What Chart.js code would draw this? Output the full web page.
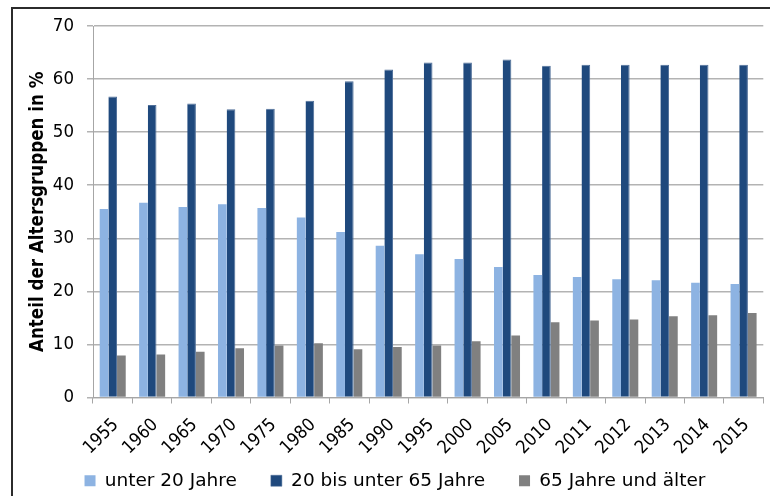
<!DOCTYPE html>
<html>
<head>
<meta charset="utf-8">
<script src="https://cdn.jsdelivr.net/npm/chart.js@4"></script>
<style>
	html, body { margin: 0; padding: 0; background: #fff; }
	#wrap { position: relative; width: 770px; height: 496px; }
	#frame { position: absolute; left: 11px; top: 7px; width: 780px; height: 520px; border-left: 2px solid #2b2b2b; border-top: 2px solid #2b2b2b; }
	canvas { position: absolute; left: 0; top: 0; }
</style>
</head>
<body>
<div id="wrap">
	<div id="frame"></div>
	<canvas id="chart" width="770" height="496"></canvas>
</div>
<script>
// --- data ---
var years = ["1955", "1960", "1965", "1970", "1975", "1980", "1985", "1990", "1995", "2000", "2005", "2010", "2011", "2012", "2013", "2014", "2015"];
var under20 = [35.5, 36.7, 35.9, 36.4, 35.7, 33.9, 31.2, 28.6, 27.0, 26.1, 24.6, 23.1, 22.7, 22.3, 22.1, 21.6, 21.4];
var from20to65 = [56.7, 55.1, 55.4, 54.3, 54.4, 55.9, 59.6, 61.8, 63.1, 63.1, 63.7, 62.5, 62.7, 62.7, 62.7, 62.7, 62.7];
var over65 = [7.9, 8.1, 8.6, 9.3, 9.8, 10.2, 9.1, 9.5, 9.8, 10.6, 11.7, 14.2, 14.5, 14.7, 15.3, 15.5, 15.9];
var seriesNames = ["unter 20 Jahre", "20 bis unter 65 Jahre", "65 Jahre und älter"];
var yTicks = [0, 10, 20, 30, 40, 50, 60, 70];

var condensed = "'DejaVu Sans Condensed', 'DejaVu Sans', sans-serif";
Chart.defaults.font.family = "'DejaVu Sans', sans-serif";
Chart.defaults.color = '#000';

var ctx = document.getElementById('chart').getContext('2d');

var chart = new Chart(ctx, {
	type: 'bar',
	data: {
		labels: years,
		datasets: [{
			label: seriesNames[0],
			data: under20,
			backgroundColor: '#8db3e2'
		}, {
			label: seriesNames[1],
			data: from20to65,
			backgroundColor: '#1f497d',
			borderColor: '#4f6f99',
			borderWidth: { left: 0, right: 1, top: 1, bottom: 0 }
		}, {
			label: seriesNames[2],
			data: over65,
			backgroundColor: '#808080'
		}]
	},
	options: {
		responsive: false,
		animation: false,
		layout: {
			padding: { left: 25, right: 5, top: 26, bottom: -4 }
		},
		datasets: {
			bar: {
				categoryPercentage: 0.66,
				barPercentage: 1
			}
		},
		plugins: {
			legend: {
				position: 'bottom',
				labels: {
					boxWidth: 11,
					boxHeight: 11,
					padding: 34,
					font: { size: 18.5 }
				}
			},
			tooltip: { enabled: false }
		},
		scales: {
			x: {
				afterFit: function(scale) {
					// keep the axis box short so the legend sits close, but let the rotated labels spill below it
					scale.height = 40;
					scale._computeLabelArea = function() {};
				},
				grid: {
					drawOnChartArea: false,
					drawTicks: true,
					tickLength: 6,
					color: '#a6a6a6'
				},
				border: { color: '#a6a6a6', width: 1 },
				ticks: {
					maxRotation: 45,
					minRotation: 45,
					padding: 11,
					labelOffset: 3,
					font: { family: condensed, size: 18 }
				}
			},
			y: {
				min: 0,
				max: 70,
				afterFit: function(scale) { scale.width = 68; },
				afterBuildTicks: function(axis) {
					axis.ticks = yTicks.map(function(v) { return { value: v }; });
				},
				grid: {
					color: '#b3b3b3',
					lineWidth: 1.5,
					tickLength: 6
				},
				border: { color: '#a6a6a6', width: 1 },
				ticks: {
					padding: 13,
					font: { family: condensed, size: 18.5 }
				},
				title: {
					display: true,
					text: 'Anteil der Altersgruppen in %',
					font: { family: condensed, size: 18.6, weight: 'bold' },
					padding: { top: 2, bottom: 0 }
				}
			}
		}
	}
});
</script>
</body>
</html>
